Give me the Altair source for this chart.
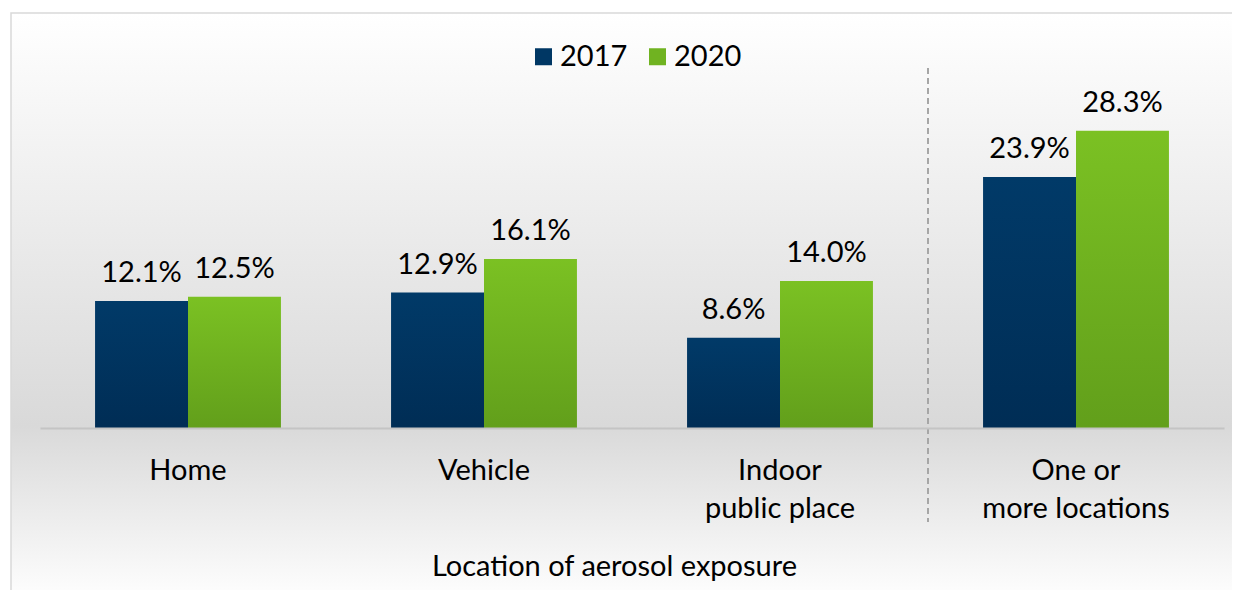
import altair as alt
import pandas as pd

categories = ["Home", "Vehicle", "Indoor|public place", "One or|more locations"]
years = ["2017", "2020"]
values_2017 = [12.1, 12.9, 8.6, 23.9]
values_2020 = [12.5, 16.1, 14.0, 28.3]
x_title = "Location of aerosol exposure"

rows = []
for c, a, b in zip(categories, values_2017, values_2020):
    rows.append({"cat": c, "year": years[0], "value": a})
    rows.append({"cat": c, "year": years[1], "value": b})
df = pd.DataFrame(rows)

FONT = "Lato"
FS = 29

def grad(top, bottom):
    return alt.LinearGradient(
        gradient="linear", x1=0, x2=0, y1=0, y2=1,
        stops=[alt.GradientStop(color=top, offset=0), alt.GradientStop(color=bottom, offset=1)],
    )

x_enc = alt.X(
    "cat:N", sort=categories,
    scale=alt.Scale(paddingInner=0.372, paddingOuter=0.186),
    axis=alt.Axis(
        title=x_title, labelExpr="split(datum.label, '|')", labelFont=FONT, labelFontSize=FS,
        labelColor="black", labelAngle=0, labelLineHeight=38, labelBaseline="alphabetic",
        labelPadding=51, labelLimit=0, ticks=False, tickSize=0, domainColor="#c4c4c4", domainWidth=2,
        titleFont=FONT, titleFontSize=FS, titleFontWeight="normal", titleColor="black",
        titleX=574, titleY=147, titleAlign="center", titleBaseline="alphabetic", grid=False,
        zindex=1,
    ),
)
y_enc = alt.Y("value:Q", scale=alt.Scale(domain=[0, 30]), axis=None)
xoff = alt.XOffset("year:N", scale=alt.Scale(domain=years, paddingInner=0, paddingOuter=0))

bg = alt.Chart(pd.DataFrame({"a": [0]})).mark_rect(
    fill=alt.LinearGradient(
        gradient="linear", x1=0, x2=0, y1=0, y2=1,
        stops=[
            alt.GradientStop(color="#ffffff", offset=0),
            alt.GradientStop(color="#d9d9d9", offset=0.70),
            alt.GradientStop(color="#ffffff", offset=1),
        ],
    ),
    stroke="#d9d9d9", strokeWidth=1.5,
).encode(x=alt.value(-29), x2=alt.value(1215), y=alt.value(-100), y2=alt.value(490))

base = alt.Chart(df)

sep = alt.Chart(pd.DataFrame({"cat": [categories[-1]]})).mark_rule(
    xOffset=-148, strokeDash=[6, 4], color="#a6a6a6", strokeWidth=2
).encode(x=x_enc, y=alt.value(-45), y2=alt.value(409))

bars17 = base.transform_filter(f"datum.year == '{years[0]}'").mark_bar(
    fill=grad("#013a68", "#002d55")
).encode(x=x_enc, xOffset=xoff, y=y_enc)

bars20 = base.transform_filter(f"datum.year == '{years[1]}'").mark_bar(
    fill=grad("#7bc123", "#629f1b")
).encode(x=x_enc, xOffset=xoff, y=y_enc)

legend_layer = base.mark_square(opacity=0).encode(
    x=x_enc, xOffset=xoff, y=y_enc,
    color=alt.Color(
        "year:N",
        scale=alt.Scale(domain=years, range=["#003764", "#70b321"]),
        legend=alt.Legend(
            orient="none", legendX=489, legendY=-71, direction="horizontal", title=None,
            symbolType="square", symbolSize=289, symbolOpacity=1, symbolStrokeWidth=0,
            labelFont=FONT, labelFontSize=FS, labelColor="black", labelOffset=2,
            columnPadding=15, padding=0,
        ),
    ),
)

labels = base.transform_calculate(
    label="format(datum.value, '.1f') + '%'"
).mark_text(font=FONT, fontSize=FS, baseline="alphabetic", dy=-19, color="black").encode(
    x=x_enc, xOffset=xoff, y=y_enc, text="label:N"
)

chart = alt.layer(bg, sep, bars17, bars20, legend_layer, labels).properties(
    width=1184, height=315,
    padding={"left": 32, "top": 105, "right": 8, "bottom": 162},
    autosize=alt.AutoSizeParams(type="none"),
    background="white",
).configure_view(stroke=None)

chart.save("out.html", embed_options={"renderer": "svg", "actions": False})
